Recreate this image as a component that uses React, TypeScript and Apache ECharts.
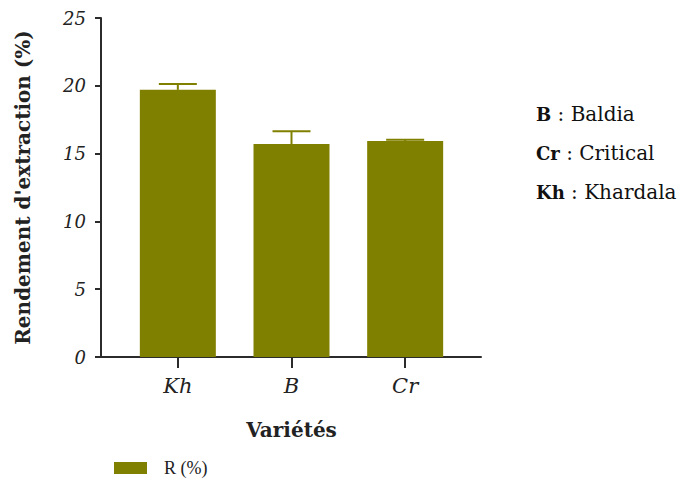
import React, { useEffect, useRef } from "react";
import * as echarts from "echarts";

const categories = ["Kh", "B", "Cr"];
const means = [19.7, 15.7, 15.93];
const errors = [0.43, 0.95, 0.1];
const yTicks = { min: 0, max: 25, interval: 5 };
const seriesName = "R (%)";
const keyLines = [
  { code: "B", name: "Baldia" },
  { code: "Cr", name: "Critical" },
  { code: "Kh", name: "Khardala" },
];

const OLIVE = "#808000";
const AXIS = "#2b2b2b";
const SERIF = "DejaVu Serif";

export default function App() {
  const ref = useRef<HTMLDivElement>(null);
  useEffect(() => {
    if (!ref.current) return;
    const chart = echarts.init(ref.current, undefined, { renderer: "svg" });
    const errData = means.map((m, i) => [i, m, m + errors[i]]);
    chart.setOption({
      animation: false,
      backgroundColor: "#ffffff",
      grid: [
        { left: 121, right: 220, top: 18, bottom: 121, containLabel: false },
        { left: 101, right: 201, top: 18, bottom: 121, containLabel: false },
      ],
      xAxis: [
        {
          type: "category",
          gridIndex: 0,
          data: categories,
          axisLine: { show: false },
          axisTick: { show: true, alignWithLabel: true, length: 11, lineStyle: { color: AXIS, width: 2 } },
          axisLabel: {
            margin: 18,
            fontFamily: SERIF,
            fontStyle: "italic",
            fontSize: 21,
            color: "#222",
          },
          name: "Variétés",
          nameLocation: "middle",
          nameGap: 63,
          nameTextStyle: { fontFamily: SERIF, fontWeight: "bold", fontSize: 20, color: "#222" },
        },
        {
          type: "value",
          gridIndex: 1,
          min: 0,
          max: 1,
          axisLine: { show: true, lineStyle: { color: AXIS, width: 2 } },
          axisTick: { show: false },
          axisLabel: { show: false },
          splitLine: { show: false },
        },
      ],
      yAxis: [
        {
          type: "value",
          gridIndex: 0,
          offset: 20,
          min: yTicks.min,
          max: yTicks.max,
          interval: yTicks.interval,
          axisLine: { show: true, lineStyle: { color: AXIS, width: 2 } },
          axisTick: { show: true, length: 6, lineStyle: { color: AXIS, width: 2 } },
          splitLine: { show: false },
          axisLabel: {
            margin: 15,
            fontFamily: SERIF,
            fontStyle: "italic",
            fontSize: 18,
            color: "#222",
          },
          name: "Rendement d'extraction (%)",
          nameLocation: "middle",
          nameRotate: 90,
          nameGap: 68,
          nameTextStyle: { fontFamily: SERIF, fontWeight: "bold", fontSize: 20, color: "#222" },
        },
        {
          type: "value",
          gridIndex: 1,
          show: false,
          min: 0,
          max: 1,
        },
      ],
      legend: {
        data: [seriesName],
        left: 114,
        top: 459,
        padding: 0,
        icon: "rect",
        itemWidth: 33,
        itemHeight: 12,
        textStyle: {
          fontFamily: "Liberation Serif",
          fontSize: 18,
          lineHeight: 18,
          color: "#222",
          padding: [0, 0, 0, 12],
        },
      },
      graphic: keyLines.map((k, i) => ({
        type: "text",
        left: 536,
        top: 104 + i * 39,
        style: {
          text: `{b|${k.code}}{n| : ${k.name}}`,
          rich: {
            b: { fontFamily: SERIF, fontWeight: "bold", fontSize: 18, fill: "#111" },
            n: { fontFamily: SERIF, fontSize: 20, fill: "#111" },
          },
        },
      })),
      series: [
        {
          name: seriesName,
          type: "bar",
          xAxisIndex: 0,
          yAxisIndex: 0,
          data: means,
          barWidth: 76,
          itemStyle: { color: OLIVE },
          z: 2,
        },
        {
          type: "custom",
          xAxisIndex: 0,
          yAxisIndex: 0,
          data: errData,
          z: 3,
          renderItem: (params: any, api: any) => {
            const idx = api.value(0);
            const base = api.coord([idx, api.value(1)]);
            const top = api.coord([idx, api.value(2)]);
            const half = 19;
            return {
              type: "group",
              children: [
                {
                  type: "line",
                  shape: { x1: base[0], y1: base[1], x2: top[0], y2: top[1] },
                  style: { stroke: OLIVE, lineWidth: 2 },
                },
                {
                  type: "line",
                  shape: { x1: top[0] - half, y1: top[1], x2: top[0] + half, y2: top[1] },
                  style: { stroke: OLIVE, lineWidth: 2 },
                },
              ],
            };
          },
        },
      ],
    });
    return () => chart.dispose();
  }, []);
  return (
    <div
      ref={ref}
      style={{ position: "fixed", left: 0, top: 0, width: 682, height: 478 }}
    />
  );
}
